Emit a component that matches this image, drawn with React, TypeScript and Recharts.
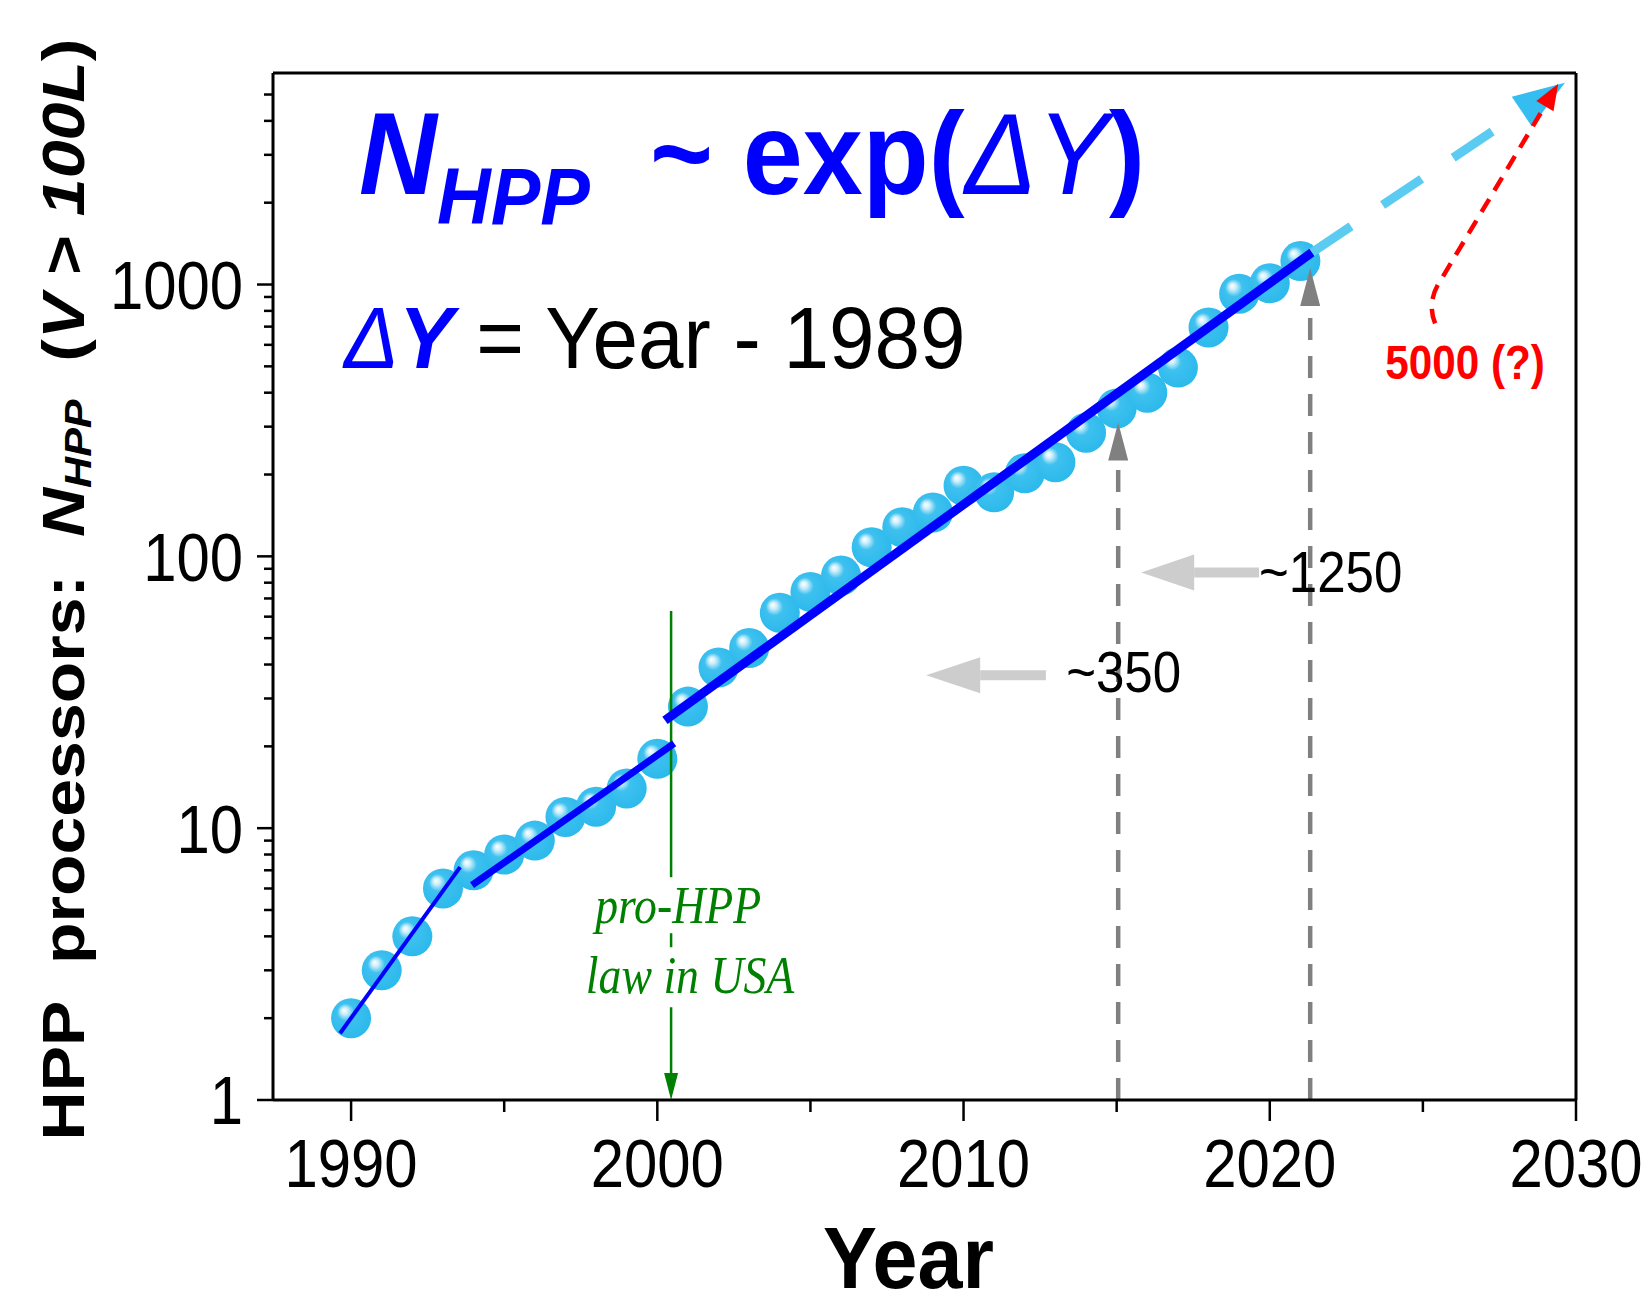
import React from 'react';
import { ComposedChart, XAxis, YAxis, Scatter, ReferenceLine, ReferenceDot } from 'recharts';

const SANS = '"Liberation Sans", Arial, sans-serif';
const SERIF = '"Liberation Serif", "Times New Roman", serif';
const SQUEEZE = 0.88; // the source figure is a little narrower than tall

// HPP processors per year
const years = [
  1990, 1991, 1992, 1993, 1994, 1995, 1996, 1997, 1998, 1999, 2000,
  2001, 2002, 2003, 2004, 2005, 2006, 2007, 2008, 2009, 2010,
  2011, 2012, 2013, 2014, 2015, 2016, 2017, 2018, 2019, 2020, 2021,
];
const processors = [
  2, 3, 4, 6, 7, 8, 9, 11, 12, 14, 18,
  28, 39, 46, 62, 74, 85, 108, 128, 145, 182,
  172, 202, 222, 285, 350, 400, 495, 695, 925, 1010, 1220,
];
const points = years.map((year, i) => ({ year, n: processors[i] }));

// exponential fits, drawn as straight segments on the log axis
const fitEarly = [{ year: 1989.64, n: 1.76 }, { year: 1993.56, n: 7.19 }];
const fitMid = [{ year: 1993.95, n: 6.17 }, { year: 2000.55, n: 20.5 }];
const fitLate = [{ year: 2000.25, n: 24.9 }, { year: 2021.38, n: 1312 }];
const projection = [{ year: 2021.38, n: 1312 }, { year: 2029.64, n: 5530 }];
const forecastPointer = [{ year: 2025.4, n: 719 }, { year: 2029.42, n: 5480 }];

const markYears = [2015.05, 2021.32];
const markValues = [311, 1150];
const lawYear = 2000.45;
const lawTop = 63;

const xTicks = [1990, 1995, 2000, 2005, 2010, 2015, 2020, 2025, 2030];
const xMajor = [1990, 2000, 2010, 2020, 2030];
const yTicks = [
  1, 2, 3, 4, 5, 6, 7, 8, 9,
  10, 20, 30, 40, 50, 60, 70, 80, 90,
  100, 200, 300, 400, 500, 600, 700, 800, 900,
  1000, 2000, 3000, 4000, 5000,
];
const yMajor = [1, 10, 100, 1000];

const squeeze = (x: number, y: number, s = SQUEEZE) => `translate(${x},${y}) scale(${s},1)`;
const seg = (pts: { year: number; n: number }[]) => pts.map((p) => ({ x: p.year, y: p.n }));

const YTick = ({ x, y, payload }: any) => {
  const major = yMajor.includes(payload.value);
  return (
    <g>
      <line x1={x - (major ? 16 : 9)} x2={x} y1={y} y2={y} stroke="#000" strokeWidth={2.5} />
      {major && (
        <text transform={squeeze(x - 30, y)} dy="0.36em" textAnchor="end" fontSize={68} fontFamily={SANS} fill="#000">
          {payload.value}
        </text>
      )}
    </g>
  );
};

const XTick = ({ x, y, payload }: any) => {
  const major = xMajor.includes(payload.value);
  return (
    <g>
      <line x1={x} x2={x} y1={y} y2={y + (major ? 21 : 12)} stroke="#000" strokeWidth={2.5} />
      {major && (
        <text transform={squeeze(x, y + 87)} textAnchor="middle" fontSize={68} fontFamily={SANS} fill="#000">
          {payload.value}
        </text>
      )}
    </g>
  );
};

type ArrowOpts = { color: string; width: number; dash?: string; head: number; half: number; headColor?: string };
const arrowShape = (o: ArrowOpts) => (p: any) => {
  const { x1, y1, x2, y2 } = p;
  const len = Math.hypot(x2 - x1, y2 - y1) || 1;
  const ux = (x2 - x1) / len;
  const uy = (y2 - y1) / len;
  const bx = x2 - ux * o.head;
  const by = y2 - uy * o.head;
  const nx = -uy * o.half;
  const ny = ux * o.half;
  return (
    <g>
      <line x1={x1} y1={y1} x2={bx} y2={by} stroke={o.color} strokeWidth={o.width} strokeDasharray={o.dash} />
      <polygon points={`${x2},${y2} ${bx + nx},${by + ny} ${bx - nx},${by - ny}`} fill={o.headColor ?? o.color} />
    </g>
  );
};

const hookArrow = (p: any) => {
  const { x1, y1, x2, y2 } = p;
  const sx = x1 + 6;
  const sy = y1 - 44;
  const len = Math.hypot(x2 - sx, y2 - sy);
  const ux = (x2 - sx) / len;
  const uy = (y2 - sy) / len;
  const bx = x2 - ux * 26;
  const by = y2 - uy * 26;
  const nx = -uy * 10;
  const ny = ux * 10;
  return (
    <g>
      <path d={`M${x1},${y1} Q${x1 - 9},${y1 - 22} ${sx},${sy} L${bx},${by}`} fill="none" stroke="#ff0000" strokeWidth={4.5} strokeDasharray="15 10" />
      <polygon points={`${x2},${y2} ${bx + nx},${by + ny} ${bx - nx},${by - ny}`} fill="#ff0000" />
    </g>
  );
};

const Sphere = (p: any) => <circle cx={p.cx} cy={p.cy} r={20} fill="url(#hppSphere)" />;

const Title = ({ cx, cy }: any) => (
  <text transform={squeeze(cx, cy, 0.93)} fontFamily={SANS} fontWeight="bold" fill="#0000ff" style={{ whiteSpace: 'pre' }}>
    <tspan fontStyle="italic" fontSize={116}>N</tspan>
    <tspan fontStyle="italic" fontSize={80} dy={30}>HPP</tspan>
    <tspan fontSize={116} dy={-30}>{'  ~ exp('}</tspan>
    <tspan fontSize={116} fontStyle="italic" fontWeight="normal">ΔY</tspan>
    <tspan fontSize={116}>)</tspan>
  </text>
);

const DeltaLine = ({ cx, cy }: any) => (
  <text transform={squeeze(cx, cy, 0.93)} fontFamily={SANS} fontSize={88} fill="#000" style={{ whiteSpace: 'pre' }}>
    <tspan fill="#0000ff" fontStyle="italic">Δ</tspan>
    <tspan fill="#0000ff" fontStyle="italic" fontWeight="bold">Y</tspan>
    <tspan>{' = Year - 1989'}</tspan>
  </text>
);

const note = (text: string, size: number, color: string, weight = 'normal') => ({ cx, cy }: any) => (
  <text transform={squeeze(cx, cy)} fontFamily={SANS} fontSize={size} fontWeight={weight} fill={color}>{text}</text>
);

const lawNote = (text: string, w: number, h: number) => ({ cx, cy }: any) => (
  <g>
    <rect x={cx - w / 2} y={cy - 46} width={w} height={h} fill="#fff" />
    <text transform={squeeze(cx, cy)} textAnchor="middle" fontFamily={SERIF} fontStyle="italic" fontSize={52} fill="#008000">
      {text}
    </text>
  </g>
);

const YearLabel = ({ viewBox }: any) => (
  <text transform={squeeze(viewBox.x + viewBox.width / 2 - 16, viewBox.y + 188, 0.92)} textAnchor="middle" fontFamily={SANS} fontWeight="bold" fontSize={88} fill="#000">
    Year
  </text>
);

const NLabel = ({ viewBox }: any) => (
  <text
    transform={`translate(${viewBox.x + 84},${viewBox.y + viewBox.height / 2 + 3}) rotate(-90) scale(1,${SQUEEZE})`}
    textAnchor="middle"
    fontFamily={SANS}
    fontWeight="bold"
    fontSize={68}
    fill="#000"
    style={{ whiteSpace: 'pre' }}
  >
    <tspan>{'HPP  processors:  '}</tspan>
    <tspan fontStyle="italic">N</tspan>
    <tspan fontStyle="italic" fontSize={43} dy={8}>HPP</tspan>
    <tspan dy={-8}>{'  ('}</tspan>
    <tspan fontStyle="italic">V</tspan>
    <tspan>{' > '}</tspan>
    <tspan fontStyle="italic">100L</tspan>
    <tspan>)</tspan>
  </text>
);

export default function App() {
  return (
    <div style={{ position: 'absolute', left: 0, top: 0, width: 1642, height: 1307, background: '#fff' }}>
      <svg width={0} height={0} style={{ position: 'absolute' }}>
        <defs>
          <radialGradient id="hppSphere" cx="0.45" cy="0.45" r="0.6" fx="0.32" fy="0.3">
            <stop offset="0" stopColor="#ffffff" />
            <stop offset="0.14" stopColor="#cdeffb" />
            <stop offset="0.36" stopColor="#3ec1ef" />
            <stop offset="1" stopColor="#2ab8eb" />
          </radialGradient>
        </defs>
      </svg>
      <ComposedChart width={1642} height={1307} margin={{ top: 73, right: 66, bottom: 0, left: 0 }}>
        <XAxis
          dataKey="year"
          type="number"
          domain={[1987.45, 2030]}
          allowDataOverflow
          ticks={xTicks}
          interval={0}
          height={207}
          tickSize={0}
          tickMargin={0}
          tickLine={false}
          tick={<XTick />}
          axisLine={{ stroke: '#000', strokeWidth: 3 }}
          label={{ content: YearLabel }}
        />
        <YAxis
          dataKey="n"
          type="number"
          scale="log"
          domain={[1, 6000]}
          allowDataOverflow
          ticks={yTicks}
          interval={0}
          width={273}
          tickSize={0}
          tickMargin={0}
          tickLine={false}
          tick={<YTick />}
          axisLine={{ stroke: '#000', strokeWidth: 3 }}
          label={{ content: NLabel }}
        />
        <ReferenceLine y={6000} stroke="#000" strokeWidth={3} ifOverflow="visible" />
        <ReferenceLine x={2030} stroke="#000" strokeWidth={3} ifOverflow="visible" />

        {/* markers sit under the fit lines and annotations */}
        <Scatter data={points} dataKey="n" shape={Sphere} isAnimationActive={false} zIndex={50} />

        <ReferenceLine
          segment={[{ x: lawYear, y: lawTop }, { x: lawYear, y: 1 }]}
          ifOverflow="visible"
          shape={arrowShape({ color: '#008000', width: 2.5, head: 27, half: 7 })}
        />

        <ReferenceLine segment={seg(fitEarly)} ifOverflow="visible" stroke="#0000ff" strokeWidth={4} />
        <ReferenceLine segment={seg(fitMid)} ifOverflow="visible" stroke="#0000ff" strokeWidth={7} />
        <ReferenceLine segment={seg(fitLate)} ifOverflow="visible" stroke="#0000ff" strokeWidth={9} />

        <ReferenceLine
          segment={seg(projection)}
          ifOverflow="visible"
          shape={arrowShape({ color: '#5ccbf2', width: 9, dash: '47 38', head: 52, half: 18, headColor: '#33bdf0' })}
        />

        {markYears.map((yr, i) => (
          <ReferenceLine
            key={yr}
            segment={[{ x: yr, y: 1 }, { x: yr, y: markValues[i] }]}
            ifOverflow="visible"
            shape={arrowShape({ color: '#808080', width: 4.5, dash: '22 16', head: 38, half: 10 })}
          />
        ))}

        <ReferenceLine
          segment={[{ x: 2019.65, y: 87.3 }, { x: 2015.8, y: 87.3 }]}
          ifOverflow="visible"
          shape={arrowShape({ color: '#cdcdcd', width: 10, head: 53, half: 18 })}
        />
        <ReferenceLine
          segment={[{ x: 2012.69, y: 36.5 }, { x: 2008.78, y: 36.5 }]}
          ifOverflow="visible"
          shape={arrowShape({ color: '#cdcdcd', width: 10, head: 54, half: 18 })}
        />

        <ReferenceLine segment={seg(forecastPointer)} ifOverflow="visible" shape={hookArrow} />

        <ReferenceDot x={1990.26} y={2160} ifOverflow="visible" shape={Title} />
        <ReferenceDot x={1989.77} y={495} ifOverflow="visible" shape={DeltaLine} />
        <ReferenceDot x={2019.65} y={73.7} ifOverflow="visible" shape={note('~1250', 58, '#000')} />
        <ReferenceDot x={2013.35} y={31.6} ifOverflow="visible" shape={note('~350', 58, '#000')} />
        <ReferenceDot x={2023.77} y={451} ifOverflow="visible" shape={note('5000 (?)', 48, '#ff0000', 'bold')} />
        <ReferenceDot x={2000.68} y={4.47} ifOverflow="visible" shape={lawNote('pro-HPP', 192, 56)} />
        <ReferenceDot x={2001.07} y={2.47} ifOverflow="visible" shape={lawNote('law in USA', 230, 60)} />
      </ComposedChart>
    </div>
  );
}
